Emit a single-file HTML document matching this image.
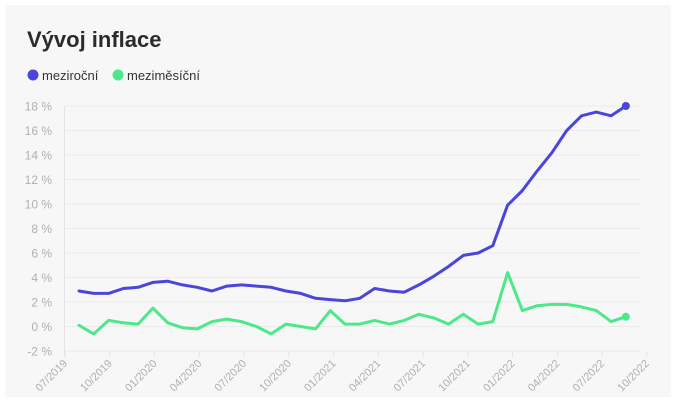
<!DOCTYPE html>
<html><head><meta charset="utf-8"><style>
html,body{margin:0;padding:0;background:#fff;width:678px;height:409px;overflow:hidden}
.card{position:absolute;left:5px;top:5px;width:666px;height:392px;background:#f7f7f7}
svg{position:absolute;left:0;top:0}
text{font-family:"Liberation Sans",sans-serif}
</style></head><body>
<div class="card"></div>
<svg width="678" height="409" id="s">
<text x="27" y="47" font-size="22" font-weight="bold" fill="#2b2b2b">Vývoj inflace</text>
<circle cx="33" cy="75" r="5.5" fill="#4b45dc"/>
<text x="42" y="80" font-size="13" fill="#333">meziroční</text>
<circle cx="118" cy="75" r="5.5" fill="#4de88a"/>
<text x="127" y="80" font-size="13" fill="#333">meziměsíční</text>
<g id="g"></g>
</svg>
<script>
var g=document.getElementById('g'),h='';
function Y(v){return 326.5-v*12.25}
function X(i){return 65+i*14.92}
function D(i){return 79+i*14.78}
for(var v=-2;v<=18;v+=2){h+='<line x1="65" x2="640" y1="'+Y(v)+'" y2="'+Y(v)+'" stroke="#ebebeb" stroke-width="1"/>';
h+='<text x="52" y="'+(Y(v)+4.5)+'" font-size="12" fill="#b0b0b0" text-anchor="end">'+v+' %</text>';}
h+='<line x1="64.5" x2="64.5" y1="'+Y(18)+'" y2="'+(Y(-2)+6)+'" stroke="#e3e3e3"/>';
var L=['07/2019','10/2019','01/2020','04/2020','07/2020','10/2020','01/2021','04/2021','07/2021','10/2021','01/2022','04/2022','07/2022','10/2022'];
for(var i=0;i<L.length;i++){var x=X(i*3);
h+='<line x1="'+x+'" x2="'+x+'" y1="'+Y(-2)+'" y2="'+(Y(-2)+6)+'" stroke="#e3e3e3"/>';
h+='<text transform="translate('+(x+3)+','+(Y(-2)+13)+') rotate(-45)" font-size="11" fill="#b0b0b0" text-anchor="end">'+L[i]+'</text>';}
var a=[2.9,2.7,2.7,3.1,3.2,3.6,3.7,3.4,3.2,2.9,3.3,3.4,3.3,3.2,2.9,2.7,2.3,2.2,2.1,2.3,3.1,2.9,2.8,3.4,4.1,4.9,5.8,6.0,6.6,9.9,11.1,12.7,14.2,16.0,17.2,17.5,17.2,18.0];
var b=[0.1,-0.6,0.5,0.3,0.2,1.5,0.3,-0.1,-0.2,0.4,0.6,0.4,0.0,-0.6,0.2,0.0,-0.2,1.3,0.2,0.2,0.5,0.2,0.5,1.0,0.7,0.2,1.0,0.2,0.4,4.4,1.3,1.7,1.8,1.8,1.6,1.3,0.4,0.8];
function pl(d,c){var p=d.map(function(v,i){return D(i).toFixed(1)+','+Y(v).toFixed(1)}).join(' ');
return '<polyline points="'+p+'" fill="none" stroke="'+c+'" stroke-width="3" stroke-linejoin="round" stroke-linecap="round"/><circle cx="'+D(d.length-1)+'" cy="'+Y(d[d.length-1])+'" r="4" fill="'+c+'"/>';}
h+=pl(b,'#4de88a')+pl(a,'#4b45dc');
g.innerHTML=h;
</script>
</body></html>
